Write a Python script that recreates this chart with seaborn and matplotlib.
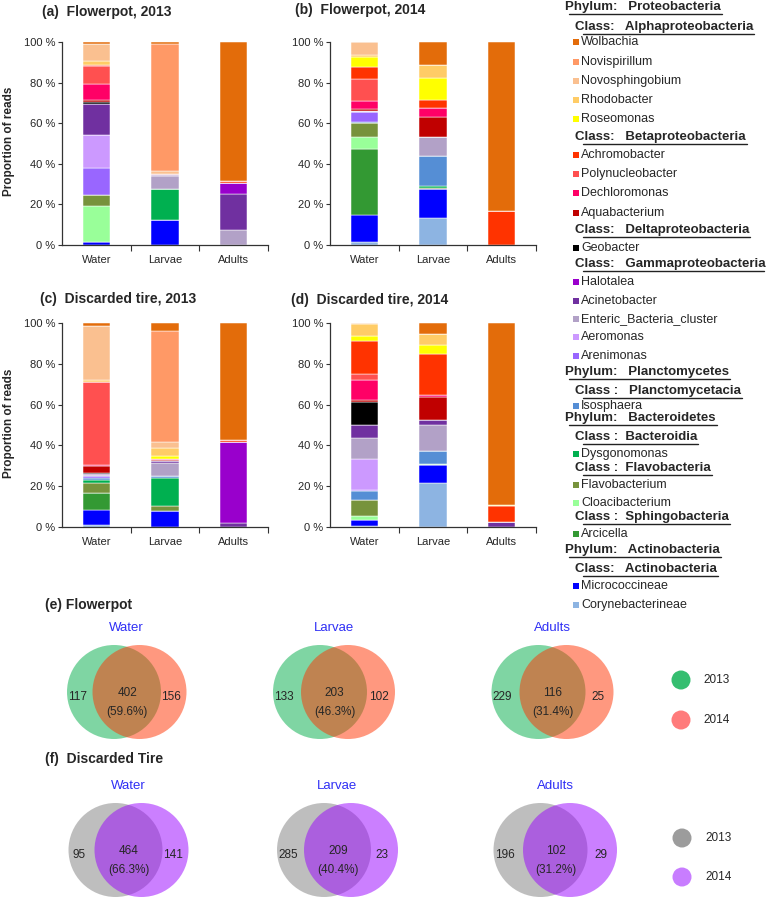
import numpy as np
import pandas as pd
import matplotlib
matplotlib.use("Agg")
import matplotlib.pyplot as plt
from matplotlib.patches import Circle, Rectangle
import seaborn as sns

# ---------------- data ----------------
samples = ["Water", "Larvae", "Adults"]
taxa = ["Wolbachia", "Novispirillum", "Novosphingobium", "Rhodobacter", "Roseomonas",
        "Achromobacter", "Polynucleobacter", "Dechloromonas", "Aquabacterium",
        "Geobacter", "Halotalea", "Acinetobacter", "Enteric_Bacteria_cluster",
        "Aeromonas", "Arenimonas", "Isosphaera", "Dysgonomonas", "Flavobacterium",
        "Cloacibacterium", "Arcicella", "Micrococcineae", "Corynebacterineae"]

# percent of reads per taxon (in legend order) for each sample
fp13_water  = [0.8, 0, 8.8, 1.7, 0, 0.5, 9.0, 7.8, 0.8, 1.2, 0, 15.0, 0, 16.7, 13.0, 0, 0, 5.6, 17.6, 0, 1.5, 0]
fp13_larvae = [1.1, 62.6, 1.2, 0, 0, 0, 0, 0, 0.7, 0, 0, 0.6, 6.2, 0, 0, 0, 15.5, 0, 0, 0, 12.1, 0]
fp13_adults = [68.5, 0, 0, 0, 0, 0.9, 0, 0, 0, 0, 5.3, 17.9, 7.4, 0, 0, 0, 0, 0, 0, 0, 0, 0]

fp14_water  = [0, 0, 6.2, 1.3, 4.6, 6.2, 10.7, 4.1, 0.8, 0, 0, 0, 0.8, 0, 4.9, 0.5, 0, 6.9, 5.7, 32.6, 13.4, 1.3]
fp14_larvae = [11.4, 0, 0, 6.4, 10.7, 4.1, 0, 4.3, 9.8, 0, 0, 0, 9.3, 0, 0, 15.1, 0.7, 0.8, 0, 0, 14.0, 13.4]
fp14_adults = [83.4, 0, 0, 0, 0, 16.6, 0, 0, 0, 0, 0, 0, 0, 0, 0, 0, 0, 0, 0, 0, 0, 0]

dt13_water  = [1.3, 0, 26.8, 0.8, 0, 0, 40.9, 0.3, 3.3, 0.5, 0, 0.6, 0.7, 0, 0.6, 1.0, 1.5, 5.0, 0, 8.2, 7.4, 1.1]
dt13_larvae = [4.1, 54.4, 2.6, 4.1, 1.3, 0, 0, 0.8, 0.5, 0, 0, 0.8, 6.4, 0, 0, 0.8, 14.1, 2.4, 0, 0, 7.7, 0]
dt13_adults = [57.5, 0, 0, 0, 0, 0.8, 0, 0, 0, 0, 39.6, 2.1, 0, 0, 0, 0, 0, 0, 0, 0, 0, 0]

dt14_water  = [0, 0, 0.3, 6.2, 2.3, 16.4, 2.9, 9.8, 0.8, 11.5, 0, 6.0, 10.6, 15.2, 0.5, 4.1, 0, 8.2, 1.6, 0, 3.1, 0.5]
dt14_larvae = [5.2, 0, 0, 5.7, 4.5, 19.7, 0, 1.2, 11.4, 0, 0, 2.5, 12.7, 0, 0, 6.1, 0, 0, 0.4, 0, 9.0, 21.6]
dt14_adults = [89.1, 0, 0, 0, 0.8, 7.6, 0, 0, 0, 0, 0, 2.5, 0, 0, 0, 0, 0, 0, 0, 0, 0, 0]

# Venn counts (only 2013, shared, only 2014) for Water, Larvae, Adults
fp_only2013 = [117, 133, 229]
fp_shared = [402, 203, 116]
fp_only2014 = [156, 102, 25]
dt_only2013 = [95, 285, 196]
dt_shared = [464, 209, 102]
dt_only2014 = [141, 23, 29]

# ---------------- style ----------------
taxa_colors = ["#E36C0A", "#FF9966", "#FAC090", "#FFCC66", "#FFFF00",
               "#FF3300", "#FF5050", "#FF0066", "#C00000",
               "#000000", "#9900CC", "#7030A0", "#B2A1C7",
               "#CC99FF", "#9966FF", "#558ED5", "#00B050", "#77933C",
               "#99FF99", "#339933", "#0000FF", "#8DB4E2"]
palette = dict(zip(taxa, taxa_colors))

sns.set_style("ticks")
plt.rcParams["font.family"] = ["Liberation Sans", "DejaVu Sans"]

W, H = 768, 900
fig = plt.figure(figsize=(W / 100, H / 100), dpi=100)

def px_axes(left, top, right, bottom):
    return fig.add_axes([left / W, 1 - bottom / H, (right - left) / W, (bottom - top) / H])

panels = [
    ("(a)  Flowerpot, 2013", [fp13_water, fp13_larvae, fp13_adults], (62, 42, 268, 245), (42, 12), True),
    ("(b)  Flowerpot, 2014", [fp14_water, fp14_larvae, fp14_adults], (330, 42, 536, 245), (295, 10), False),
    ("(c)  Discarded tire, 2013", [dt13_water, dt13_larvae, dt13_adults], (62, 323, 268, 527), (40, 299), True),
    ("(d)  Discarded tire, 2014", [dt14_water, dt14_larvae, dt14_adults], (330, 323, 536, 527), (291, 300), False),
]

titles_to_draw = []
for title, vals, box, tpos, ylab in panels:
    ax = px_axes(*box)
    rows = []
    for si, svals in enumerate(vals):
        for t, v in zip(taxa, svals):
            rows.append((si, t, v))
    df = pd.DataFrame(rows, columns=["sample", "taxon", "pct"])
    sns.histplot(data=df, x="sample", hue="taxon", weights="pct", multiple="stack",
                 discrete=True, shrink=0.4, hue_order=taxa, palette=palette,
                 alpha=1, edgecolor="white", linewidth=0.35, legend=False, ax=ax)
    ax.set_xlim(-0.5, 2.5)
    ax.set_ylim(0, 100)
    ax.set_xticks([0, 1, 2])
    ax.set_xticklabels(samples, fontsize=8)
    ax.set_xticks([0.5, 1.5, 2.5], minor=True)
    ax.tick_params(axis="x", which="major", length=0, pad=7)
    ax.tick_params(axis="x", which="minor", length=4, width=0.8, direction="out", color="#333333")
    ax.set_yticks([0, 20, 40, 60, 80, 100])
    ax.set_yticklabels([f"{v} %" for v in [0, 20, 40, 60, 80, 100]], fontsize=8)
    ax.tick_params(axis="y", length=3, width=0.8, direction="out", pad=2, color="#333333")
    ax.set_xlabel("")
    ax.set_ylabel("")
    sns.despine(ax=ax)
    for s in ("left", "bottom"):
        ax.spines[s].set_color("#333333")
        ax.spines[s].set_linewidth(0.9)
    titles_to_draw.append((title, tpos, ylab, box))

# overlay in pixel coordinates
ov = fig.add_axes([0, 0, 1, 1])
ov.set_xlim(0, W)
ov.set_ylim(H, 0)
ov.axis("off")

for title, (tx, ty), ylab, box in titles_to_draw:
    ov.text(tx, ty, title, fontsize=10, fontweight="bold", ha="left", va="center")
    if ylab:
        ov.text(9, (box[1] + box[3]) / 2 - 2, "Proportion of reads", fontsize=8.5,
                fontweight="bold", rotation=90, ha="center", va="center")

# ---------------- taxa legend ----------------
legend_entries = [
    ("h1", "Phylum:   Proteobacteria", 7),
    ("h2", "Class:   Alphaproteobacteria", 27),
    ("t", "Wolbachia", 42), ("t", "Novispirillum", 62), ("t", "Novosphingobium", 81),
    ("t", "Rhodobacter", 100), ("t", "Roseomonas", 119),
    ("h2", "Class:   Betaproteobacteria", 137),
    ("t", "Achromobacter", 155), ("t", "Polynucleobacter", 174),
    ("t", "Dechloromonas", 193), ("t", "Aquabacterium", 213),
    ("h2", "Class:   Deltaproteobacteria", 230),
    ("t", "Geobacter", 248),
    ("h2", "Class:   Gammaproteobacteria", 264),
    ("t", "Halotalea", 282), ("t", "Acinetobacter", 301),
    ("t", "Enteric_Bacteria_cluster", 319), ("t", "Aeromonas", 337), ("t", "Arenimonas", 356),
    ("h1", "Phylum:   Planctomycetes", 372),
    ("h2", "Class :   Planctomycetacia", 391),
    ("t", "Isosphaera", 406),
    ("h1", "Phylum:   Bacteroidetes", 418),
    ("h2", "Class :  Bacteroidia", 437),
    ("t", "Dysgonomonas", 454),
    ("h2", "Class :  Flavobacteria", 468),
    ("t", "Flavobacterium", 485), ("t", "Cloacibacterium", 503),
    ("h2", "Class :  Sphingobacteria", 517),
    ("t", "Arcicella", 534),
    ("h1", "Phylum:   Actinobacteria", 550),
    ("h2", "Class:   Actinobacteria", 569),
    ("t", "Micrococcineae", 586), ("t", "Corynebacterineae", 605),
]

header_texts = []
for kind, label, y in legend_entries:
    if kind == "t":
        ov.add_patch(Rectangle((573, y - 3.2), 6, 6, facecolor=palette[label], edgecolor="none"))
        ov.text(581, y, label, fontsize=9, ha="left", va="center")
    else:
        x0 = 565 if kind == "h1" else 575
        t = ov.text(x0, y, label, fontsize=9.5, fontweight="bold", ha="left", va="center")
        header_texts.append((t, kind, y))

fig.canvas.draw()
renderer = fig.canvas.get_renderer()
for t, kind, y in header_texts:
    bb = t.get_window_extent(renderer)
    x_start = bb.x0 + (4 if kind == "h1" else 8)
    ov.plot([x_start, min(bb.x1 + 1, W - 4)], [y + 7, y + 7], color="#222222", lw=1.0)

# ---------------- Venn diagrams ----------------
ov.text(45, 605, "(e) Flowerpot", fontsize=10, fontweight="bold", ha="left", va="center")
ov.text(45, 759, "(f)  Discarded Tire", fontsize=10, fontweight="bold", ha="left", va="center")

venn_rows = [
    dict(only13=fp_only2013, shared=fp_shared, only14=fp_only2014,
         c13="#00AD49", c14="#FF3301", m13="#35BE70", m14="#FF7B7B",
         cy=692, title_y=628, lx=[114, 320, 538.5], rx=[139.5, 348, 566.5],
         leg_y=(680, 720), leg_x=681, leg_tx=703),
    dict(only13=dt_only2013, shared=dt_shared, only14=dt_only2014,
         c13="#7F7F7F", c14="#9901FF", m13="#9C9C9C", m14="#C87DFF",
         cy=850, title_y=786, lx=[115.5, 324, 540.5], rx=[141.5, 351, 570],
         leg_y=(838, 877), leg_x=682, leg_tx=705),
]
R = 47
for row in venn_rows:
    for i, name in enumerate(samples):
        lx, rx, cy = row["lx"][i], row["rx"][i], row["cy"]
        ov.add_patch(Circle((lx, cy), R, facecolor=row["c13"], alpha=0.5, edgecolor="none"))
        ov.add_patch(Circle((rx, cy), R, facecolor=row["c14"], alpha=0.5, edgecolor="none"))
        ov.text((lx + rx) / 2, row["title_y"], name, color="#2F2FF5", fontsize=9.5,
                ha="center", va="center")
        a, s, b = row["only13"][i], row["shared"][i], row["only14"][i]
        pct = 100 * s / (a + s + b)
        ov.text(lx - 36, cy + 5, f"{a}", fontsize=8.5, ha="center", va="center")
        ov.text(rx + 31, cy + 5, f"{b}", fontsize=8.5, ha="center", va="center")
        ov.text((lx + rx) / 2 + 0.5, cy + 1, f"{s}", fontsize=8.5, ha="center", va="center")
        ov.text((lx + rx) / 2 + 0.5, cy + 20, f"({pct:.1f}%)", fontsize=8.5, ha="center", va="center")
    for yy, col, lab in zip(row["leg_y"], (row["m13"], row["m14"]), ("2013", "2014")):
        ov.add_patch(Circle((row["leg_x"], yy), 9.5, facecolor=col, edgecolor="none"))
        ov.text(row["leg_tx"], yy, lab, fontsize=8.5, ha="left", va="center")

fig.savefig("out.png", dpi=100)
